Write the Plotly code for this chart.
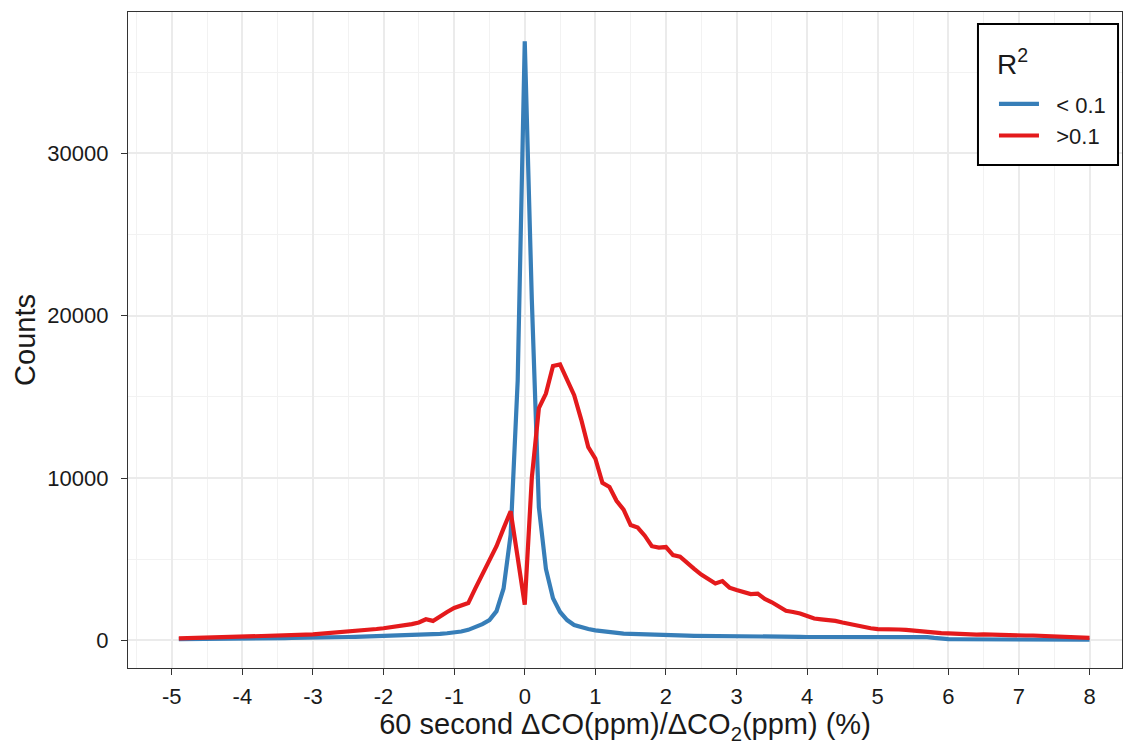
import numpy as np
import plotly.graph_objects as go

# bin centres (ratio, %)
ratio = [round(-4.9 + 0.1 * i, 1) for i in range(130)]

# counts, R^2 < 0.1 (thousands)
low_r2_k = [
    0.08, 0.08, 0.09, 0.09, 0.10, 0.10, 0.10, 0.11, 0.11, 0.12,
    0.12, 0.12, 0.13, 0.13, 0.14, 0.14, 0.15, 0.15, 0.16, 0.17,
    0.17, 0.18, 0.19, 0.20, 0.21, 0.22, 0.23, 0.24, 0.25, 0.27,
    0.28, 0.29, 0.30, 0.31, 0.33, 0.35, 0.37, 0.40, 0.44, 0.48,
    0.55, 0.65, 0.80, 1.00, 1.25, 1.80, 3.20, 6.50, 16.0, 36.9,
    21.0, 8.20, 4.40, 2.60, 1.75, 1.25, 0.95, 0.80, 0.70, 0.62,
    0.56, 0.50, 0.45, 0.42, 0.40, 0.38, 0.35, 0.33, 0.32, 0.31,
    0.30, 0.30, 0.29, 0.28, 0.28, 0.27, 0.27, 0.26, 0.26, 0.25,
    0.25, 0.24, 0.24, 0.23, 0.23, 0.23, 0.22, 0.22, 0.22, 0.21,
    0.21, 0.21, 0.20, 0.20, 0.20, 0.19, 0.19, 0.19, 0.18, 0.18,
    0.18, 0.18, 0.20, 0.22, 0.23, 0.22, 0.20, 0.15, 0.10, 0.08,
    0.07, 0.07, 0.07, 0.06, 0.06, 0.06, 0.06, 0.06, 0.05, 0.05,
    0.05, 0.05, 0.05, 0.05, 0.05, 0.04, 0.04, 0.04, 0.04, 0.04,
]

# counts, R^2 > 0.1 (thousands)
high_r2_k = [
    0.12, 0.13, 0.14, 0.15, 0.15, 0.17, 0.18, 0.19, 0.20, 0.20,
    0.22, 0.24, 0.25, 0.27, 0.28, 0.30, 0.30, 0.32, 0.35, 0.37,
    0.40, 0.43, 0.47, 0.50, 0.55, 0.58, 0.62, 0.67, 0.70, 0.75,
    0.80, 0.85, 0.92, 1.00, 1.10, 1.30, 1.20, 1.50, 1.75, 2.00,
    2.15, 2.30, 3.20, 4.10, 4.90, 5.80, 6.90, 7.95, 5.10, 2.20,
    10.0, 14.3, 15.2, 16.9, 17.0, 16.1, 15.1, 13.6, 11.9, 11.2,
    9.70, 9.45, 8.60, 8.05, 7.10, 6.95, 6.45, 5.80, 5.72, 5.75,
    5.25, 5.15, 4.75, 4.40, 4.05, 3.75, 3.50, 3.65, 3.25, 3.10,
    3.00, 2.85, 2.88, 2.55, 2.35, 2.10, 1.82, 1.75, 1.66, 1.50,
    1.35, 1.30, 1.27, 1.20, 1.10, 1.00, 0.90, 0.82, 0.75, 0.70,
    0.67, 0.68, 0.67, 0.65, 0.60, 0.55, 0.50, 0.47, 0.45, 0.43,
    0.40, 0.38, 0.37, 0.36, 0.37, 0.35, 0.33, 0.32, 0.30, 0.30,
    0.30, 0.30, 0.28, 0.25, 0.23, 0.22, 0.20, 0.20, 0.18, 0.15,
]

x_ticks = list(range(-5, 9))
y_ticks = [0, 10000, 20000, 30000]
series_names = ["< 0.1", ">0.1"]
legend_title = "R<sup>2</sup>"

low_counts = [v * 1000 for v in low_r2_k]
high_counts = [v * 1000 for v in high_r2_k]

FONT = "Liberation Sans, Arial, sans-serif"
TXT = "#1a1a1a"
PAD = "\u00a0\u00a0"

def esc(s):
    return s.replace("<", "&lt;").replace(">", "&gt;")

fig = go.Figure()
fig.add_trace(go.Scatter(x=ratio, y=low_counts, mode="lines", name=PAD + esc(series_names[0]),
                         line=dict(color="#377EB8", width=4.2)))
fig.add_trace(go.Scatter(x=ratio, y=high_counts, mode="lines", name=PAD + esc(series_names[1]),
                         line=dict(color="#E41A1C", width=4.2)))

axis_common = dict(
    showline=True, linecolor="#333333", linewidth=1.2, mirror=True,
    ticks="outside", ticklen=6, tickwidth=1.2, tickcolor="#333333",
    showgrid=True, gridcolor="#EBEBEB", gridwidth=1.5,
    zeroline=False,
    tickfont=dict(family=FONT, size=22, color=TXT),
)

# legend frame (ggplot-style box with generous padding)
fig.add_shape(type="rect", xref="paper", yref="paper",
              x0=0.8551, x1=0.9960, y0=0.7668, y1=0.9817,
              fillcolor="white", line=dict(color="black", width=2), layer="above")
fig.add_annotation(text=legend_title, xref="paper", yref="paper",
                   x=0.8722, y=0.9238, xanchor="left", yanchor="middle",
                   showarrow=False, font=dict(family=FONT, size=28, color=TXT))

fig.update_layout(
    width=1126, height=746,
    margin=dict(l=128, r=4, t=12, b=78),
    paper_bgcolor="white", plot_bgcolor="white",
    font=dict(family=FONT, color=TXT),
    xaxis=dict(
        **axis_common,
        range=[-5.62, 8.46],
        tickvals=x_ticks,
        ticktext=[str(v) for v in x_ticks],
        ticklabelstandoff=2,
        minor=dict(dtick=0.5, tick0=0.5, showgrid=True, gridcolor="#F2F2F2", gridwidth=0.9, ticklen=0),
        title=dict(text="60 second \u0394CO(ppm)/\u0394CO<sub>2</sub>(ppm) (%)",
                   font=dict(family=FONT, size=29, color=TXT), standoff=5),
    ),
    yaxis=dict(
        **axis_common,
        range=[-1700, 38700],
        tickvals=y_ticks,
        ticktext=[str(v) for v in y_ticks],
        ticklabelstandoff=8,
        minor=dict(dtick=5000, tick0=5000, showgrid=True, gridcolor="#F2F2F2", gridwidth=0.9, ticklen=0),
        title=dict(text="Counts", font=dict(family=FONT, size=29, color=TXT), standoff=3),
    ),
    legend=dict(
        x=0.8712, y=0.8916, xanchor="left", yanchor="top",
        bgcolor="rgba(0,0,0,0)", borderwidth=0,
        font=dict(family=FONT, size=22, color=TXT),
        itemwidth=40, tracegroupgap=4,
    ),
)

fig.write_html("out.html")
